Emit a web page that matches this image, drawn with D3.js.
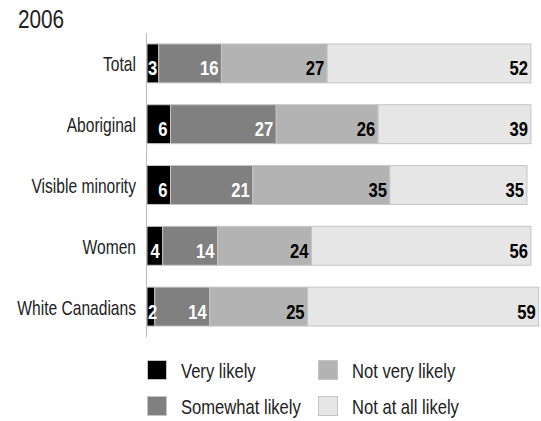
<!DOCTYPE html>
<html>
<head>
<meta charset="utf-8">
<script src="https://cdn.jsdelivr.net/npm/d3@7"></script>
<style>
	body { margin: 0; background: #fff; }
	text { font-family: 'Liberation Sans', Arial, sans-serif; }
</style>
</head>
<body>
<div id="chart"></div>
<script>
// Data
var categories = ['Total', 'Aboriginal', 'Visible minority', 'Women', 'White Canadians'];
var series = ['Very likely', 'Somewhat likely', 'Not very likely', 'Not at all likely'];
var very_likely = [3, 6, 6, 4, 2];
var somewhat_likely = [16, 27, 21, 14, 14];
var not_very_likely = [27, 26, 35, 24, 25];
var not_at_all_likely = [52, 39, 35, 56, 59];
var colors = ['#000000', '#808080', '#b3b3b3', '#e6e6e6'];
var label_colors = ['#fff', '#fff', '#000', '#000'];

var total_width = 541;
var total_height = 421;
// narrow look: no condensed font installed, so squeeze text horizontally
var squeeze = 0.83;

var svg = d3.select('#chart')
	.append('svg')
	.attr('width', total_width)
	.attr('height', total_height);

function narrow_text(parent, x, y, sx) {
	sx = sx || squeeze;
	return parent.append('g')
		.attr('transform', 'translate(' + x + ',' + y + ') scale(' + sx + ',1)')
		.append('text');
}

// Title
narrow_text(svg, 18, 28)
	.attr('font-size', '25px')
	.attr('fill', '#222')
	.text('2006');

var values = [very_likely, somewhat_likely, not_very_likely, not_at_all_likely];
var rows = categories.map(function(c, i) {
	var row = { name: c };
	series.forEach(function(s, j) { row[s] = values[j][i]; });
	return row;
});
var stacked = d3.stack().keys(series)(rows);

var x_scale = d3.scaleLinear().domain([0, 100]).range([147, 538.7]);
var y_scale = d3.scaleBand().domain(categories).range([33, 337])
	.paddingInner(0.36).paddingOuter(0.18);

// Stacked bars
var bars = svg.append('g');
stacked.forEach(function(layer, k) {
	bars.append('g')
		.selectAll('rect')
		.data(layer)
		.enter()
		.append('rect')
		.attr('x', function(d) { return x_scale(d[0]); })
		.attr('y', function(d) { return y_scale(d.data.name); })
		.attr('width', function(d) { return x_scale(d[1]) - x_scale(d[0]); })
		.attr('height', y_scale.bandwidth())
		.attr('fill', colors[k])
		.attr('stroke', '#c4c4c4')
		.attr('stroke-width', 1);
});

// Value labels, right aligned at the end of each segment (drawn above all bars)
var labels_g = svg.append('g');
stacked.forEach(function(layer, k) {
	layer.forEach(function(d) {
		var t = narrow_text(labels_g, 0, 0)
			.attr('text-anchor', 'end')
			.attr('font-size', '20px')
			.attr('font-weight', 'bold')
			.attr('fill', label_colors[k])
			.text(d[1] - d[0]);
		var w = t.node().getComputedTextLength() * squeeze;
		var x = Math.max(x_scale(d[1]) - 3, x_scale(d[0]) + w + 1);
		var y = y_scale(d.data.name) + y_scale.bandwidth() / 2 + 12;
		d3.select(t.node().parentNode)
			.attr('transform', 'translate(' + x + ',' + y + ') scale(' + squeeze + ',1)');
	});
});

// Axis line
svg.append('line')
	.attr('x1', 146.5).attr('x2', 146.5)
	.attr('y1', 33).attr('y2', 337)
	.attr('stroke', '#bbb')
	.attr('stroke-width', 1);

// Category labels
categories.forEach(function(c) {
	narrow_text(svg, 136, y_scale(c) + y_scale.bandwidth() / 2 + 8, 0.78)
		.attr('text-anchor', 'end')
		.attr('font-size', '20px')
		.attr('fill', '#222')
		.text(c);
});

// Legend
var legend = svg.selectAll('.legend')
	.data(series)
	.enter()
	.append('g')
	.attr('class', 'legend')
	.attr('transform', function(d, i) {
		var col = Math.floor(i / 2), row = i % 2;
		return 'translate(' + (147 + col * 171) + ',' + (360 + row * 36) + ')';
	});

legend.append('rect')
	.attr('x', 0.5).attr('y', 0.5)
	.attr('width', 19).attr('height', 19)
	.attr('fill', function(d, i) { return colors[i]; })
	.attr('stroke', '#c4c4c4');

legend.each(function(d) {
	narrow_text(d3.select(this), 34, 18)
		.attr('font-size', '20px')
		.attr('fill', '#222')
		.text(d);
});
</script>
</body>
</html>
